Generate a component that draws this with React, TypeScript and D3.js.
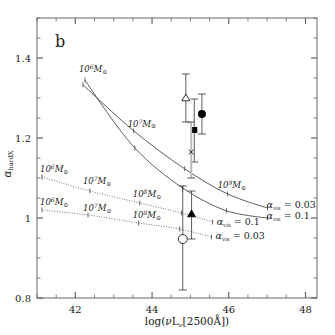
import React from 'react'
import * as d3 from 'd3'

// solid model curves (alpha_vis = 0.03 and 0.1), ticks at each mass decade
const solidX03 = [42.2, 43.52, 44.85, 45.97, 47.01]
const solidY03 = [1.333, 1.218, 1.123, 1.06, 1.025]
const solidX10 = [42.25, 43.55, 44.8, 45.94, 47.01]
const solidY10 = [1.345, 1.175, 1.075, 1.018, 1.0]

// dotted model curves
const dotX10 = [41.13, 42.38, 43.68, 44.77, 45.58]
const dotY10 = [1.1025, 1.0675, 1.0375, 1.0125, 0.99]
const dotX03 = [41.13, 42.33, 43.65, 44.72, 45.55]
const dotY03 = [1.02, 1.0075, 0.9875, 0.9725, 0.9525]

// observed points
const ptX = [44.88, 45.1, 45.3, 45.02, 45.03, 44.8]
const ptY = [1.3, 1.22, 1.26, 1.165, 1.01, 0.9475]
const ptLo = [1.24, 1.14, 1.21, 1.1, 0.9475, 0.82]
const ptHi = [1.36, 1.2975, 1.31, 1.24, 1.0675, 1.08]
const ptSym = ['triOpen', 'square', 'circle', 'cross', 'triFilled', 'circleOpen']

const xMajor = [42, 44, 46, 48]
const yMajor = [0.8, 1, 1.2, 1.4]
const yLabels = ['0.8', '1', '1.2', '1.4']

const W = 335, H = 335
const m = { left: 37, right: 18, top: 18, bottom: 37 }
const serif = '"DejaVu Serif", "Liberation Serif", serif'
const nb = '\u00a0'

export default function App() {
  const x = d3.scaleLinear().domain([41, 48.3]).range([m.left, W - m.right])
  const y = d3.scaleLinear().domain([0.8, 1.5]).range([H - m.bottom, m.top])
  const x0 = m.left, x1 = W - m.right, y0 = H - m.bottom, y1 = m.top

  const line = d3.line<[number, number]>()
    .x(d => x(d[0])).y(d => y(d[1]))
    .curve(d3.curveCatmullRom.alpha(0.5))
  const zip = (a: number[], b: number[]) => a.map((v, i) => [v, b[i]] as [number, number])

  const xMinor = d3.range(41, 48.3, 0.5)
  const yMinor = d3.range(0.8, 1.5001, 0.05)
  const axisColor = '#666'

  const curveTicks = (xs: number[], ys: number[]) =>
    xs.map((v, i) => (
      <line key={i} x1={x(v)} x2={x(v)} y1={y(ys[i]) - 2.5} y2={y(ys[i]) + 2.5} stroke="#444" strokeWidth={0.8} />
    ))

  const mass = (px: number, py: number, exp: string, key: string) => (
    <text key={key} x={px} y={py} fontFamily={serif} fontStyle="italic" fontSize={8.5} fill="#222">
      10<tspan dy={-3} fontSize={6}>{exp}</tspan><tspan dy={3}>M</tspan><tspan dy={1.5} fontSize={6}>⊙</tspan>
    </text>
  )

  const alphaLabel = (px: number, py: number, val: string, key: string) => (
    <text key={key} x={px} y={py} fontFamily={serif} fontSize={9.5} fill="#222">
      <tspan fontStyle="italic">α</tspan><tspan dy={2} fontSize={5.5}>vis</tspan><tspan dy={-2}>{nb + '=' + nb + val}</tspan>
    </text>
  )

  const marker = (s: string, cx: number, cy: number) => {
    if (s === 'triOpen' || s === 'triFilled') {
      const r = 4
      const p = `M${cx},${cy - r}L${cx + r},${cy + r * 0.7}L${cx - r},${cy + r * 0.7}Z`
      return <path d={p} fill={s === 'triFilled' ? '#000' : '#fff'} stroke="#000" strokeWidth={0.8} />
    }
    if (s === 'square') return <rect x={cx - 3} y={cy - 3} width={6} height={6} fill="#000" />
    if (s === 'circle') return <circle cx={cx} cy={cy} r={4} fill="#000" />
    if (s === 'circleOpen') return <circle cx={cx} cy={cy} r={4.5} fill="#fff" stroke="#000" strokeWidth={0.8} />
    return <path d={`M${cx - 2.5},${cy - 2.5}L${cx + 2.5},${cy + 2.5}M${cx + 2.5},${cy - 2.5}L${cx - 2.5},${cy + 2.5}`} stroke="#000" strokeWidth={0.8} />
  }

  return (
    <svg width={W} height={H} style={{ position: 'absolute', left: 0, top: 0, background: '#fff' }}>
      {/* frame */}
      <rect x={x0} y={y1} width={x1 - x0} height={y0 - y1} fill="none" stroke={axisColor} strokeWidth={1} />
      {xMinor.map(v => {
        const major = xMajor.includes(v)
        const l = major ? 6 : 3.5
        return (
          <g key={'xt' + v} stroke={axisColor} strokeWidth={major ? 1.2 : 0.8}>
            <line x1={x(v)} x2={x(v)} y1={y0} y2={y0 - l} />
            <line x1={x(v)} x2={x(v)} y1={y1} y2={y1 + l} />
          </g>
        )
      })}
      {yMinor.map(v => {
        const major = yMajor.some(t => Math.abs(t - v) < 1e-6)
        const l = major ? 6 : 3.5
        return (
          <g key={'yt' + v} stroke={axisColor} strokeWidth={major ? 1.2 : 0.8}>
            <line x1={x0} x2={x0 + l} y1={y(v)} y2={y(v)} />
            <line x1={x1} x2={x1 - l} y1={y(v)} y2={y(v)} />
          </g>
        )
      })}
      {xMajor.map(v => (
        <text key={'xl' + v} x={x(v)} y={y0 + 15} textAnchor="middle" fontFamily={serif} fontSize={10} fill="#222">{v}</text>
      ))}
      {yMajor.map((v, i) => (
        <text key={'yl' + v} x={x0 - 6} y={y(v) + 4} textAnchor="end" fontFamily={serif} fontSize={10} fill="#222">{yLabels[i]}</text>
      ))}
      <text x={(x0 + x1) / 2 + 10} y={H - 10} textAnchor="middle" fontFamily={serif} fontSize={10.5} fill="#222">
        log(<tspan fontStyle="italic">ν</tspan>L<tspan dy={2} fontSize={6.5} fontStyle="italic">ν</tspan><tspan dy={-2}>[2500Å])</tspan>
      </text>
      <text transform={`translate(11,${(y0 + y1) / 2 + 6}) rotate(-90)`} textAnchor="middle" fontFamily={serif} fontSize={10.5} fill="#222">
        <tspan fontStyle="italic">α</tspan><tspan dy={2} fontSize={6.5}>hardX</tspan>
      </text>
      <text x={55} y={47} fontFamily={serif} fontSize={16} fill="#222">b</text>

      {/* model curves */}
      <path d={line(zip(solidX03, solidY03)) || ''} fill="none" stroke="#333" strokeWidth={0.8} />
      <path d={line(zip(solidX10, solidY10)) || ''} fill="none" stroke="#333" strokeWidth={0.8} />
      <path d={line(zip(dotX10, dotY10)) || ''} fill="none" stroke="#555" strokeWidth={0.8} strokeDasharray="1 1.5" />
      <path d={line(zip(dotX03, dotY03)) || ''} fill="none" stroke="#555" strokeWidth={0.8} strokeDasharray="1 1.5" />
      {curveTicks(solidX03, solidY03)}
      {curveTicks(solidX10, solidY10)}
      {curveTicks(dotX10, dotY10)}
      {curveTicks(dotX03, dotY03)}

      {mass(x(solidX10[0]) - 6, y(solidY10[0]) - 8, '6', 's6')}
      {mass(x(solidX03[1]) - 6, y(solidY03[1]) - 4, '7', 's7')}
      {mass(x(solidX03[3]) - 10, y(solidY03[3]) - 6, '9', 's9')}
      {mass(x(dotX10[0]) - 2, y(dotY10[0]) - 5, '6', 'u6')}
      {mass(x(dotX10[1]) - 7, y(dotY10[1]) - 7, '7', 'u7')}
      {mass(x(dotX10[2]) - 7, y(dotY10[2]) - 6, '8', 'u8')}
      {mass(x(dotX03[0]) - 2, y(dotY03[0]) - 5, '6', 'l6')}
      {mass(x(dotX03[1]) - 5, y(dotY03[1]) - 4, '7', 'l7')}
      {mass(x(dotX03[2]) - 6, y(dotY03[2]) - 5, '8', 'l8')}

      {alphaLabel(x(solidX03[4]) - 1, y(solidY03[4]) + 0, '0.03', 'a1')}
      {alphaLabel(x(solidX10[4]) - 1, y(solidY10[4]) + 1, '0.1', 'a2')}
      {alphaLabel(x(dotX10[4]) + 4, y(dotY10[4]) + 3, '0.1', 'a3')}
      {alphaLabel(x(dotX03[4]) + 4, y(dotY03[4]) + 2, '0.03', 'a4')}

      {/* observed points with error bars */}
      {ptX.map((v, i) => {
        const cx = x(v)
        const grey = ptSym[i] === 'cross'
        return (
          <g key={'p' + i}>
            <line x1={cx} x2={cx} y1={y(ptLo[i])} y2={y(ptHi[i])} stroke={grey ? '#bbb' : '#333'} strokeWidth={grey ? 2 : 0.8} />
            <line x1={cx - 4} x2={cx + 4} y1={y(ptLo[i])} y2={y(ptLo[i])} stroke="#333" strokeWidth={0.8} />
            <line x1={cx - 4} x2={cx + 4} y1={y(ptHi[i])} y2={y(ptHi[i])} stroke="#333" strokeWidth={0.8} />
            {marker(ptSym[i], cx, y(ptY[i]))}
          </g>
        )
      })}
    </svg>
  )
}
